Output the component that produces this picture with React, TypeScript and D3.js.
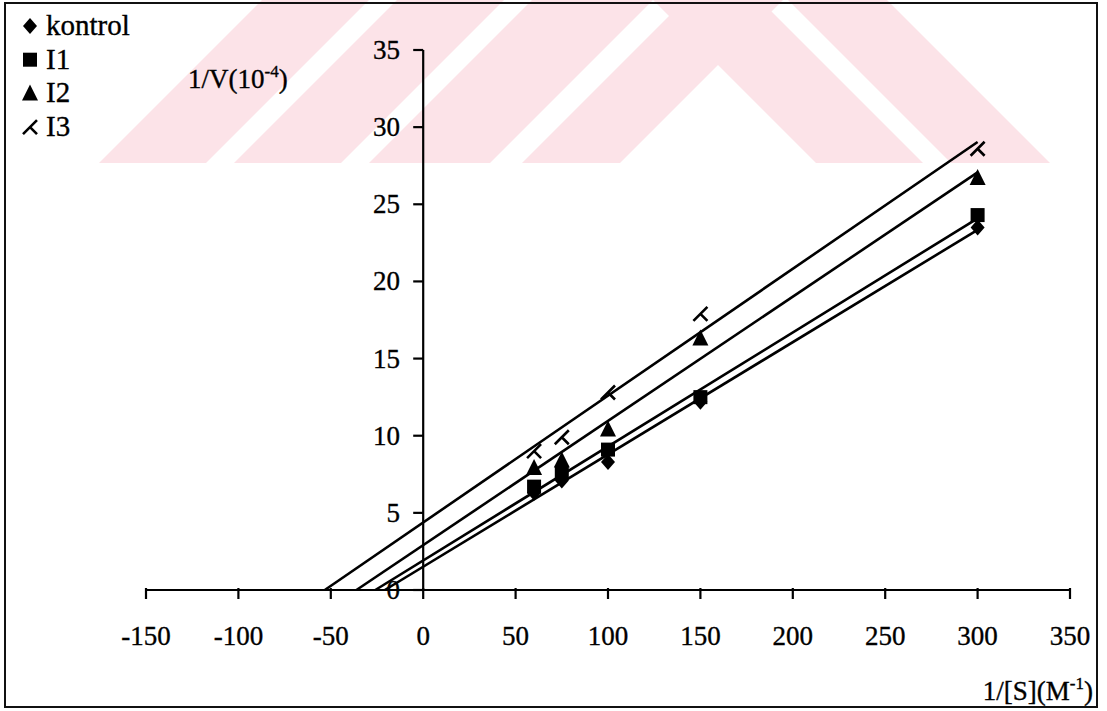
import React from "react";
import * as d3 from "d3";

const W = 1107;
const H = 711;

const substrate = [60, 75, 100, 150, 300];
const kontrol = [6.3, 7.1, 8.3, 12.2, 23.5];
const i1 = [6.7, 7.6, 9.1, 12.5, 24.3];
const i2 = [7.9, 8.4, 10.4, 16.3, 26.7];
const i3 = [9.0, 9.9, 12.8, 17.9, 28.6];

const seriesNames = ["kontrol", "I1", "I2", "I3"];
const seriesValues = [kontrol, i1, i2, i3];
const markerKinds = ["diamond", "square", "triangle", "cross"];

const xTicks = [-150, -100, -50, 0, 50, 100, 150, 200, 250, 300, 350];
const yTicks = [0, 5, 10, 15, 20, 25, 30, 35];

const FONT = "Liberation Serif, Times New Roman, serif";
const textStyle = { fontFamily: FONT };

function fit(xs: number[], ys: number[]) {
  const mx = d3.mean(xs) as number;
  const my = d3.mean(ys) as number;
  let sxy = 0;
  let sxx = 0;
  xs.forEach((x, i) => {
    sxy += (x - mx) * (ys[i] - my);
    sxx += (x - mx) * (x - mx);
  });
  const m = sxy / sxx;
  return { m, b: my - m * mx };
}

function Marker({ kind, cx, cy }: { kind: string; cx: number; cy: number }) {
  if (kind === "diamond") {
    const w = 7;
    const h = 8;
    return <path d={`M${cx},${cy - h}L${cx + w},${cy}L${cx},${cy + h}L${cx - w},${cy}Z`} fill="#000" />;
  }
  if (kind === "square") {
    const s = 7;
    return <rect x={cx - s} y={cy - s} width={2 * s} height={2 * s} fill="#000" />;
  }
  if (kind === "triangle") {
    return <path d={`M${cx},${cy - 9}L${cx + 8},${cy + 7}L${cx - 8},${cy + 7}Z`} fill="#000" />;
  }
  return (
    <path
      d={`M${cx - 7},${cy + 7}L${cx + 7},${cy - 7}M${cx},${cy}L${cx + 7},${cy + 7}`}
      stroke="#000"
      strokeWidth={2.6}
      fill="none"
    />
  );
}

// faint watermark bands (decoration)
const wmBottom = 163;
const wmShift = 163;
const slashBands = [
  [99, 206],
  [234, 341],
  [369, 490],
  [522, 620],
];
const backBands = [
  [816, 923],
  [951, 1050],
];

export default function App() {
  const x = d3.scaleLinear().domain([-150, 350]).range([146, 1070]);
  const y = d3.scaleLinear().domain([0, 35]).range([590, 50]);
  const line = d3
    .line<[number, number]>()
    .x((d) => x(d[0]))
    .y((d) => y(d[1]));

  return (
    <svg
      width={W}
      height={H}
      style={{ position: "absolute", left: 0, top: 0, background: "#fff", fontFamily: FONT }}
    >
      <rect x={0} y={0} width={W} height={H} fill="#fff" />
      <g fill="#fce3e8">
        {slashBands.map(([a, b], i) => (
          <polygon
            key={"s" + i}
            points={`${a},${wmBottom} ${b},${wmBottom} ${b + wmShift},0 ${a + wmShift},0`}
          />
        ))}
        {backBands.map(([a, b], i) => (
          <polygon
            key={"b" + i}
            points={`${a},${wmBottom} ${b},${wmBottom} ${b - wmShift},0 ${a - wmShift},0`}
          />
        ))}
      </g>
      <rect x={5} y={3} width={1092} height={704} fill="none" stroke="#111" strokeWidth={2} />

      <g fill="#000" stroke="#000" strokeWidth={0.35} style={textStyle}>
        {xTicks.map((t) => (
          <text key={"xl" + t} x={x(t)} y={645} textAnchor="middle" fontSize={27}>
            {String(t)}
          </text>
        ))}
        {yTicks.map((t) => (
          <text key={"yl" + t} x={400} y={y(t) + 9} textAnchor="end" fontSize={27}>
            {String(t)}
          </text>
        ))}
        {seriesNames.map((name, i) => (
          <text key={"lt" + i} x={46} y={35 + i * 33.7} fontSize={29}>
            {name}
          </text>
        ))}
        <text x={188} y={88} fontSize={27}>
          1/V(10
          <tspan fontSize={17} dy={-11}>
            -4
          </tspan>
          <tspan dy={11}>)</tspan>
        </text>
        <text x={1093} y={700} fontSize={27} textAnchor="end">
          1/[S](M
          <tspan fontSize={17} dy={-11}>
            -1
          </tspan>
          <tspan dy={11}>)</tspan>
        </text>
      </g>

      {/* axes */}
      <line x1={x(-150)} x2={x(350)} y1={y(0)} y2={y(0)} stroke="#000" strokeWidth={2.2} />
      <line x1={x(0)} x2={x(0)} y1={y(0)} y2={y(35)} stroke="#000" strokeWidth={2.2} />
      {xTicks.map((t) => (
        <line key={"xt" + t} x1={x(t)} x2={x(t)} y1={y(0) - 2} y2={y(0) + 9} stroke="#000" strokeWidth={2.2} />
      ))}
      {yTicks.map((t) => (
        <line key={"yt" + t} x1={x(0) - 10} x2={x(0)} y1={y(t)} y2={y(t)} stroke="#000" strokeWidth={2.2} />
      ))}

      {/* trend lines */}
      {seriesValues.map((vals, i) => {
        const { m, b } = fit(substrate, vals);
        const x0 = Math.max(-150, -b / m);
        const x1 = d3.max(substrate) as number;
        return (
          <path
            key={"l" + i}
            d={line([
              [x0, m * x0 + b],
              [x1, m * x1 + b],
            ]) as string}
            stroke="#000"
            strokeWidth={2.6}
            fill="none"
          />
        );
      })}

      {/* markers */}
      {seriesValues.map((vals, i) =>
        vals.map((v, j) => (
          <Marker key={`m${i}-${j}`} kind={markerKinds[i]} cx={x(substrate[j])} cy={y(v)} />
        ))
      )}

      {/* legend markers */}
      {seriesNames.map((name, i) => (
        <Marker key={"lm" + name} kind={markerKinds[i]} cx={30} cy={26 + i * 33.7} />
      ))}
    </svg>
  );
}
